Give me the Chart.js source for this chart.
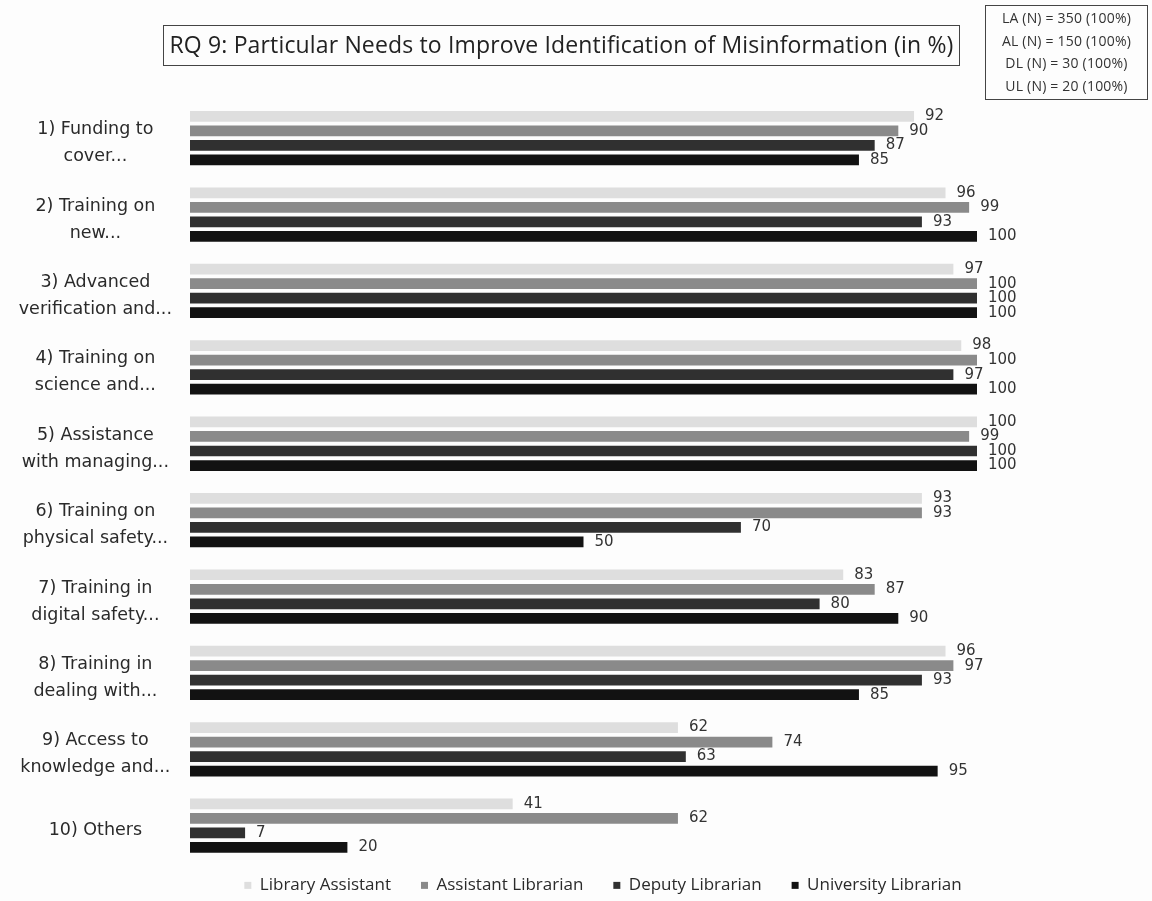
<!DOCTYPE html>
<html>
<head>
<meta charset="utf-8">
<script src="https://cdn.jsdelivr.net/npm/chart.js"></script>
<style>
  html, body { margin: 0; padding: 0; background: #fdfdfd; }
  #wrap { position: relative; width: 1152px; height: 901px; }
  #titre {
    position: absolute; left: 163px; top: 25px; width: 797px; height: 41px;
    border: 1.5px solid #444; box-sizing: border-box;
    font-family: "Open Sans", sans-serif; font-size: 23px; color: #222;
    line-height: 37px; text-align: center; white-space: nowrap; letter-spacing: 0.15px;
  }
  #effectifs {
    position: absolute; left: 985px; top: 5px; width: 163px; height: 95px;
    border: 1.5px solid #444; box-sizing: border-box;
    font-family: "Open Sans", sans-serif; font-size: 14px; color: #333;
    text-align: center; padding-top: 1px; line-height: 22.5px; letter-spacing: 0.2px;
  }
</style>
</head>
<body>
<div id="wrap">
  <canvas id="besoinsChart" width="1152" height="901"></canvas>
  <div id="titre">RQ 9: Particular Needs to Improve Identification of Misinformation (in %)</div>
  <div id="effectifs"></div>
</div>

<script>
// categories (axe vertical)
const categories = [
  ["1) Funding to", "cover..."],
  ["2) Training on", "new..."],
  ["3) Advanced", "verification and..."],
  ["4) Training on", "science and..."],
  ["5) Assistance", "with managing..."],
  ["6) Training on", "physical safety..."],
  ["7) Training in", "digital safety..."],
  ["8) Training in", "dealing with..."],
  ["9) Access to", "knowledge and..."],
  ["10) Others"]
];

// series (en %)
const libraryAssistant    = [92, 96, 97, 98, 100, 93, 83, 96, 62, 41];
const assistantLibrarian  = [90, 99, 100, 100, 99, 93, 87, 97, 74, 62];
const deputyLibrarian     = [87, 93, 100, 97, 100, 70, 80, 93, 63, 7];
const universityLibrarian = [85, 100, 100, 100, 100, 50, 90, 85, 95, 20];

const effectifs = [
  "LA (N) = 350 (100%)",
  "AL (N) = 150 (100%)",
  "DL (N) = 30 (100%)",
  "UL (N) = 20 (100%)"
];

document.getElementById('effectifs').innerHTML = effectifs.join('<br>');

// etiquettes de valeurs au bout des barres
const etiquettesValeurs = {
  id: 'etiquettesValeurs',
  afterDatasetsDraw(chart) {
    const ctx = chart.ctx;
    ctx.save();
    ctx.font = '15px "DejaVu Sans", sans-serif';
    ctx.fillStyle = '#333';
    ctx.textBaseline = 'middle';
    chart.data.datasets.forEach((ds, i) => {
      const meta = chart.getDatasetMeta(i);
      meta.data.forEach((bar, j) => {
        ctx.fillText(ds.data[j], bar.x + 11, bar.y);
      });
    });
    ctx.restore();
  }
};

// la legende est decalee vers la droite et remontee un peu
const decalerLegende = {
  id: 'decalerLegende',
  afterLayout(chart) {
    const lg = chart.legend;
    const dx = 603 - (lg.left + lg.right) / 2;
    lg.left += dx;
    lg.right += dx;
    lg.top -= 17;
    lg.bottom -= 17;
  }
};

var ctx = document.getElementById('besoinsChart').getContext('2d');
var chart = new Chart(ctx, {
  type: 'bar',
  data: {
    labels: categories,
    datasets: [
      { label: 'Library Assistant', data: libraryAssistant, backgroundColor: '#dedede' },
      { label: 'Assistant Librarian', data: assistantLibrarian, backgroundColor: '#8a8a8a' },
      { label: 'Deputy Librarian', data: deputyLibrarian, backgroundColor: '#303030' },
      { label: 'University Librarian', data: universityLibrarian, backgroundColor: '#121212' }
    ]
  },
  options: {
    indexAxis: 'y',
    responsive: false,
    animation: false,
    datasets: {
      bar: { categoryPercentage: 0.76, barPercentage: 0.74 }
    },
    layout: { padding: { left: 5, right: 175, top: 100, bottom: -29 } },
    scales: {
      x: { display: false, min: 0, max: 100 },
      y: {
        grid: { display: false },
        border: { display: false },
        ticks: {
          crossAlign: 'center',
          color: '#2a2a2a',
          padding: 10,
          labelOffset: 5,
          font: { family: '"DejaVu Sans", sans-serif', size: 17.5, lineHeight: 1.55 }
        },
        afterFit: (s) => { s.width = 185; }
      }
    },
    plugins: {
      legend: {
        position: 'bottom',
        labels: {
          boxWidth: 7, boxHeight: 7, padding: 30,
          color: '#2a2a2a',
          font: { family: '"Open Sans", sans-serif', size: 17 }
        }
      },
      tooltip: { enabled: false }
    }
  },
  plugins: [etiquettesValeurs, decalerLegende]
});
</script>
</body>
</html>
